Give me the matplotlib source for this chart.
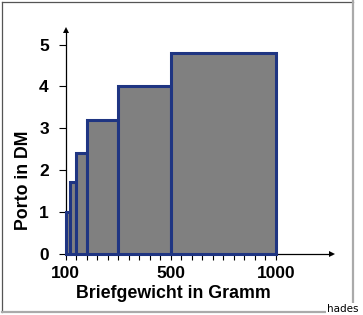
import matplotlib.pyplot as plt
from matplotlib.lines import Line2D

plt.rcParams['font.family'] = ['Liberation Sans', 'DejaVu Sans']

# Postage steps: upper weight limit (g) and price (DM)
weight_limits = [20, 50, 100, 250, 500, 1000]
porto = [1.0, 1.7, 2.4, 3.2, 4.0, 4.8]
x_ticks = list(range(0, 1001, 50))
x_label_pos = [0, 500, 1000]
x_label_txt = ["100", "500", "1000"]
y_ticks = [0, 1, 2, 3, 4, 5]

lefts = [0] + weight_limits[:-1]
widths = [w - l for w, l in zip(weight_limits, lefts)]

fig = plt.figure(figsize=(3.63, 3.15), dpi=100)
ax = fig.add_axes([65.5 / 363, 61.5 / 315, 266.5 / 363, 223.5 / 315])

ax.bar(lefts, porto, width=widths, align='edge', color='#808080',
       edgecolor='#1f3582', linewidth=2.2, zorder=3, clip_on=False)

ax.set_xlim(0, 1266)
ax.set_ylim(0, 5.35)

for s in ['top', 'right']:
    ax.spines[s].set_visible(False)
for s in ['left', 'bottom']:
    ax.spines[s].set_linewidth(0.9)
    ax.spines[s].set_zorder(2)

# arrow heads at the axis ends
ax.plot(1, 0, '>k', transform=ax.get_yaxis_transform(), clip_on=False,
        markersize=5, markeredgewidth=0)
ax.plot(0, 1, '^k', transform=ax.get_xaxis_transform(), clip_on=False,
        markersize=5, markeredgewidth=0)

ax.set_xticks(x_ticks)
ax.set_xticklabels([])
ax.tick_params(axis='x', length=4, width=0.8, direction='out')
for xp, txt in zip(x_label_pos, x_label_txt):
    ax.text(xp, -0.49, txt, ha='center', va='center', fontsize=12.5,
            fontweight='bold')

ax.set_yticks(y_ticks)
ax.set_yticklabels([str(v) for v in y_ticks], fontsize=12.5, fontweight='bold')
ax.tick_params(axis='y', length=5, width=0.8, pad=7)

fig.text(173 / 363, 1 - 293.5 / 315, "Briefgewicht in Gramm", ha='center',
         va='center', fontsize=12.8, fontweight='bold')
fig.text(23.5 / 363, 1 - 180 / 315, "Porto in DM", ha='center', va='center',
         rotation=90, fontsize=12.8, fontweight='bold')

# picture frame
fig.add_artist(Line2D([1.5 / 363, 353 / 363], [1 - 1.5 / 315] * 2,
                      color='#555555', linewidth=0.9))
fig.add_artist(Line2D([1.5 / 363] * 2, [1 - 1.5 / 315, 1 - 312 / 315],
                      color='#555555', linewidth=0.9))
fig.add_artist(Line2D([352.5 / 363] * 2, [1 - 1 / 315, 1 - 312 / 315],
                      color='#aaaaaa', linewidth=1.6))
fig.add_artist(Line2D([1.5 / 363, 353 / 363], [1 - 312 / 315] * 2,
                      color='#aaaaaa', linewidth=1.6))

fig.text(343 / 363, 1 - 308.5 / 315, "hades", ha='center', va='center',
         fontsize=7.5, family=['Liberation Sans Narrow', 'DejaVu Sans'],
         bbox=dict(facecolor='white', edgecolor='none', pad=0.6))

fig.savefig('out.png', dpi=100)
